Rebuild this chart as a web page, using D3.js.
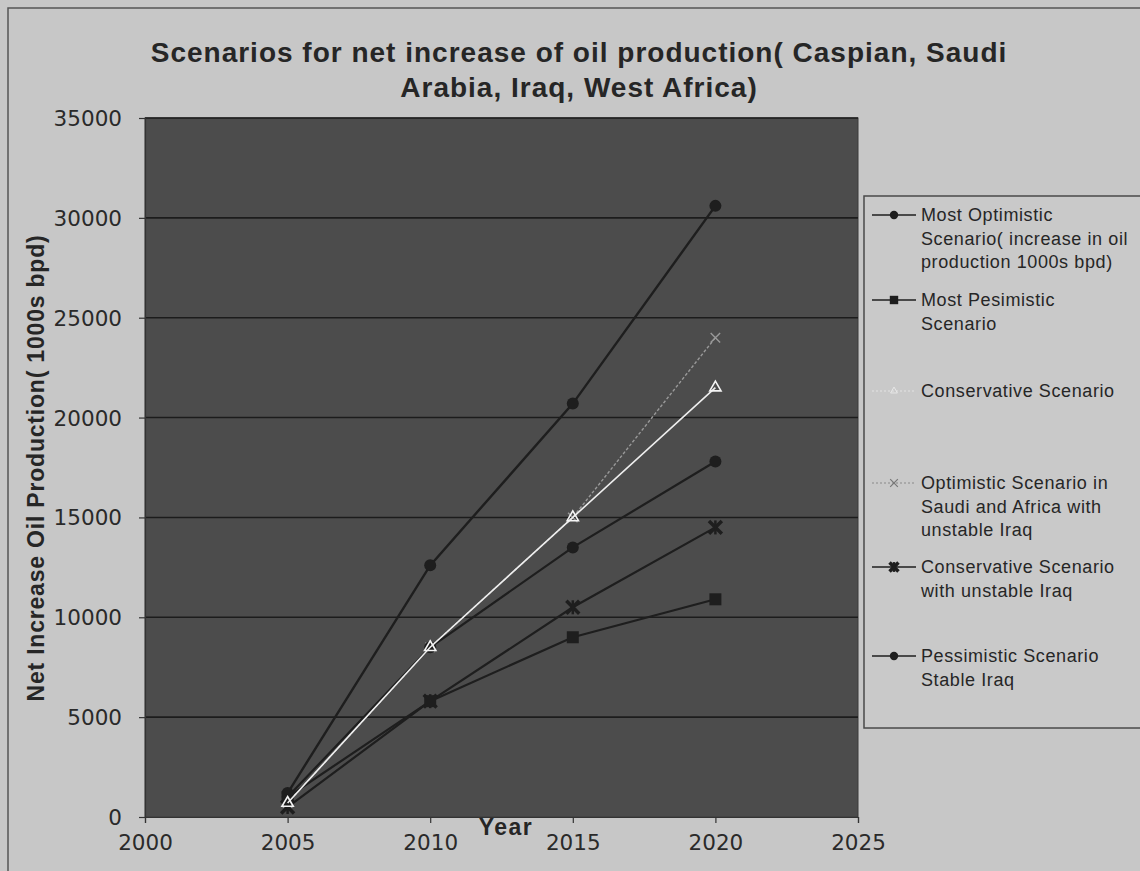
<!DOCTYPE html>
<html>
<head>
<meta charset="utf-8">
<script src="https://cdn.jsdelivr.net/npm/d3@7"></script>
<style>
  html, body { margin: 0; padding: 0; background: #c7c7c7; }
  svg { display: block; }
</style>
</head>
<body>
<script>
// ---- data ----
const years = [2005, 2010, 2015, 2020];
const seriesNames = [
  "Most Optimistic Scenario( increase in oil production 1000s bpd)",
  "Most Pesimistic Scenario",
  "Conservative Scenario",
  "Optimistic Scenario in Saudi and Africa with unstable Iraq",
  "Conservative Scenario with unstable Iraq",
  "Pessimistic Scenario Stable Iraq"
];
const legendLines = [
  ["Most Optimistic", "Scenario( increase in oil", "production 1000s bpd)"],
  ["Most Pesimistic", "Scenario"],
  ["Conservative Scenario"],
  ["Optimistic Scenario in", "Saudi and Africa with", "unstable Iraq"],
  ["Conservative Scenario", "with unstable Iraq"],
  ["Pessimistic Scenario", "Stable Iraq"]
];
const mostOptimistic       = [1200, 12600, 20700, 30600];
const mostPessimistic      = [1000, 5800, 9000, 10900];
const conservative         = [700, 8500, 15000, 21500];
const optimisticSaudi      = [700, 8500, 15000, 24000];
const conservativeUnstable = [500, 5800, 10500, 14500];
const pessimisticStable    = [1000, 8500, 13500, 17800];
const xTicks = [2000, 2005, 2010, 2015, 2020, 2025];
const yTicks = [0, 5000, 10000, 15000, 20000, 25000, 30000, 35000];
const titleLines = ["Scenarios for net increase of oil production( Caspian, Saudi", "Arabia, Iraq, West Africa)"];
const xTitle = "Year";
const yTitle = "Net Increase Oil Production( 1000s bpd)";

// ---- layout ----
const W = 1140, H = 871;
const plot = { left: 145, right: 858, top: 118, bottom: 817 };

const svg = d3.select("body").append("svg").attr("width", W).attr("height", H);

// outer background and frame
svg.append("rect").attr("x", 0).attr("y", 0).attr("width", W).attr("height", H).attr("fill", "#c7c7c7");
svg.append("rect").attr("x", 8).attr("y", 8).attr("width", W + 20).attr("height", H + 20)
  .attr("fill", "none").attr("stroke", "#555").attr("stroke-width", 1.5);

const x = d3.scaleLinear().domain([2000, 2025]).range([plot.left, plot.right]);
const y = d3.scaleLinear().domain([0, 35000]).range([plot.bottom, plot.top]);

// plot area
svg.append("rect")
  .attr("x", plot.left).attr("y", plot.top)
  .attr("width", plot.right - plot.left).attr("height", plot.bottom - plot.top)
  .attr("fill", "#4c4c4c").attr("stroke", "#3a3a3a").attr("stroke-width", 1);

// gridlines
svg.append("g").selectAll("line").data(yTicks.filter(d => d > 0)).join("line")
  .attr("x1", plot.left).attr("x2", plot.right)
  .attr("y1", d => y(d)).attr("y2", d => y(d))
  .attr("stroke", "#1c1c1c").attr("stroke-width", 1.6);

// axes
const yAxis = d3.axisLeft(y).tickValues(yTicks).tickSize(6).tickPadding(17).tickFormat(d3.format("d"));
const xAxis = d3.axisBottom(x).tickValues(xTicks).tickSize(6).tickPadding(12).tickFormat(d3.format("d"));

const gy = svg.append("g").attr("transform", `translate(${plot.left},0)`).call(yAxis);
const gx = svg.append("g").attr("transform", `translate(0,${plot.bottom})`).call(xAxis);
[gx, gy].forEach(g => {
  g.select(".domain").attr("stroke", "#333").attr("stroke-width", 1.2);
  g.selectAll(".tick line").attr("stroke", "#333").attr("stroke-width", 1.2);
  g.selectAll(".tick text").attr("fill", "#2a2a2a")
    .style("font-family", "'DejaVu Sans', sans-serif").style("font-size", "21.5px");
});
gy.selectAll(".tick text").attr("dy", "0.35em");

// titles
const title = svg.append("text").attr("text-anchor", "middle")
  .style("font-family", "'Liberation Sans', Arial, sans-serif").style("font-weight", "bold")
  .style("font-size", "28px").style("letter-spacing", "1px").attr("fill", "#262626");
titleLines.forEach((t, i) => title.append("tspan").attr("x", 579).attr("y", 62 + i * 35).text(t));

svg.append("text").attr("x", 506).attr("y", 835).attr("text-anchor", "middle")
  .style("font-family", "'Liberation Sans', Arial, sans-serif").style("font-weight", "bold")
  .style("font-size", "23px").style("letter-spacing", "1.5px").attr("fill", "#262626").text(xTitle);

svg.append("text").attr("transform", "translate(44,468) rotate(-90)").attr("text-anchor", "middle")
  .style("font-family", "'Liberation Sans', Arial, sans-serif").style("font-weight", "bold")
  .style("font-size", "23px").style("letter-spacing", "0.8px").attr("fill", "#262626").text(yTitle);

// series definitions
const seriesValues = [mostOptimistic, mostPessimistic, conservative, optimisticSaudi, conservativeUnstable, pessimisticStable];
const styles = [
  { stroke: "#1e1e1e", width: 2.4, dash: null, marker: "circle", mfill: "#1e1e1e" },
  { stroke: "#1e1e1e", width: 2.2, dash: null, marker: "square", mfill: "#1e1e1e" },
  { stroke: "#eeeeee", width: 1.6, dash: null, marker: "triangle", mfill: "none" },
  { stroke: "#9a9a9a", width: 1.4, dash: "3,2", marker: "x", mfill: "none" },
  { stroke: "#1e1e1e", width: 2.2, dash: null, marker: "star", mfill: "#1e1e1e" },
  { stroke: "#1e1e1e", width: 2.2, dash: null, marker: "circle", mfill: "#1e1e1e" }
];

const line = d3.line().x(d => x(d.year)).y(d => y(d.value));

function drawMarker(g, type, cx, cy, st, scale = 1) {
  const s = scale;
  if (type === "circle") {
    g.append("circle").attr("cx", cx).attr("cy", cy).attr("r", 6 * s).attr("fill", st.mfill);
  } else if (type === "square") {
    g.append("rect").attr("x", cx - 6 * s).attr("y", cy - 6 * s).attr("width", 12 * s).attr("height", 12 * s).attr("fill", st.mfill);
  } else if (type === "triangle") {
    g.append("path").attr("d", d3.symbol(d3.symbolTriangle, 55 * s * s)()).attr("transform", `translate(${cx},${cy})`)
      .attr("fill", "none").attr("stroke", "#f4f4f4").attr("stroke-width", 1.6);
  } else if (type === "x") {
    g.append("path").attr("d", d3.symbol(d3.symbolX, 60 * s * s)()).attr("transform", `translate(${cx},${cy})`)
      .attr("fill", "none").attr("stroke", st.stroke).attr("stroke-width", 1.4);
  } else if (type === "star") {
    g.append("path").attr("d", d3.symbol(d3.symbolX, 110 * s * s)()).attr("transform", `translate(${cx},${cy})`)
      .attr("fill", "none").attr("stroke", st.mfill).attr("stroke-width", 3.5);
    g.append("line").attr("x1", cx).attr("x2", cx).attr("y1", cy - 7 * s).attr("y2", cy + 7 * s)
      .attr("stroke", st.mfill).attr("stroke-width", 2.5);
  }
}

// draw order: faint dashed first, then dark, then white conservative
const order = [3, 5, 4, 1, 0, 2];
const gSeries = svg.append("g");
order.forEach(i => {
  const st = styles[i];
  const data = years.map((yr, k) => ({ year: yr, value: seriesValues[i][k] }));
  const g = gSeries.append("g");
  g.append("path").datum(data).attr("d", line).attr("fill", "none")
    .attr("stroke", st.stroke).attr("stroke-width", st.width)
    .attr("stroke-dasharray", st.dash);
  data.forEach(d => drawMarker(g, st.marker, x(d.year), y(d.value), st));
});

// legend
const legend = { x: 864, y: 196, w: 290, h: 532 };
svg.append("rect").attr("x", legend.x).attr("y", legend.y).attr("width", legend.w).attr("height", legend.h)
  .attr("fill", "#c9c9c9").attr("stroke", "#4a4a4a").attr("stroke-width", 1.5);
const legendY = [215, 300, 391, 483, 567, 656];
const legendSampleStroke = ["#1e1e1e", "#1e1e1e", "#e4e4e4", "#8a8a8a", "#1e1e1e", "#1e1e1e"];
legendLines.forEach((lines, i) => {
  const st = styles[i];
  const ly = legendY[i];
  const g = svg.append("g");
  g.append("line").attr("x1", 872).attr("x2", 916).attr("y1", ly).attr("y2", ly)
    .attr("stroke", legendSampleStroke[i]).attr("stroke-width", i === 2 || i === 3 ? 1.2 : 1.6)
    .attr("stroke-dasharray", i === 2 || i === 3 ? "2,2" : null);
  const mst = Object.assign({}, st, { mfill: "#1e1e1e" });
  if (st.marker === "triangle") {
    g.append("path").attr("d", d3.symbol(d3.symbolTriangle, 20)()).attr("transform", `translate(894,${ly})`)
      .attr("fill", "none").attr("stroke", "#e8e8e8").attr("stroke-width", 1);
  } else if (st.marker === "x") {
    g.append("path").attr("d", d3.symbol(d3.symbolX, 40)()).attr("transform", `translate(894,${ly})`)
      .attr("fill", "none").attr("stroke", "#777").attr("stroke-width", 1.2);
  } else {
    drawMarker(g, st.marker, 894, ly, mst, 0.7);
  }
  const t = g.append("text").attr("fill", "#262626")
    .style("font-family", "'Liberation Sans', Arial, sans-serif").style("font-size", "18px")
    .style("letter-spacing", "0.6px");
  lines.forEach((s, k) => t.append("tspan").attr("x", 921).attr("y", ly + 6 + k * 23.5).text(s));
});
</script>
</body>
</html>
